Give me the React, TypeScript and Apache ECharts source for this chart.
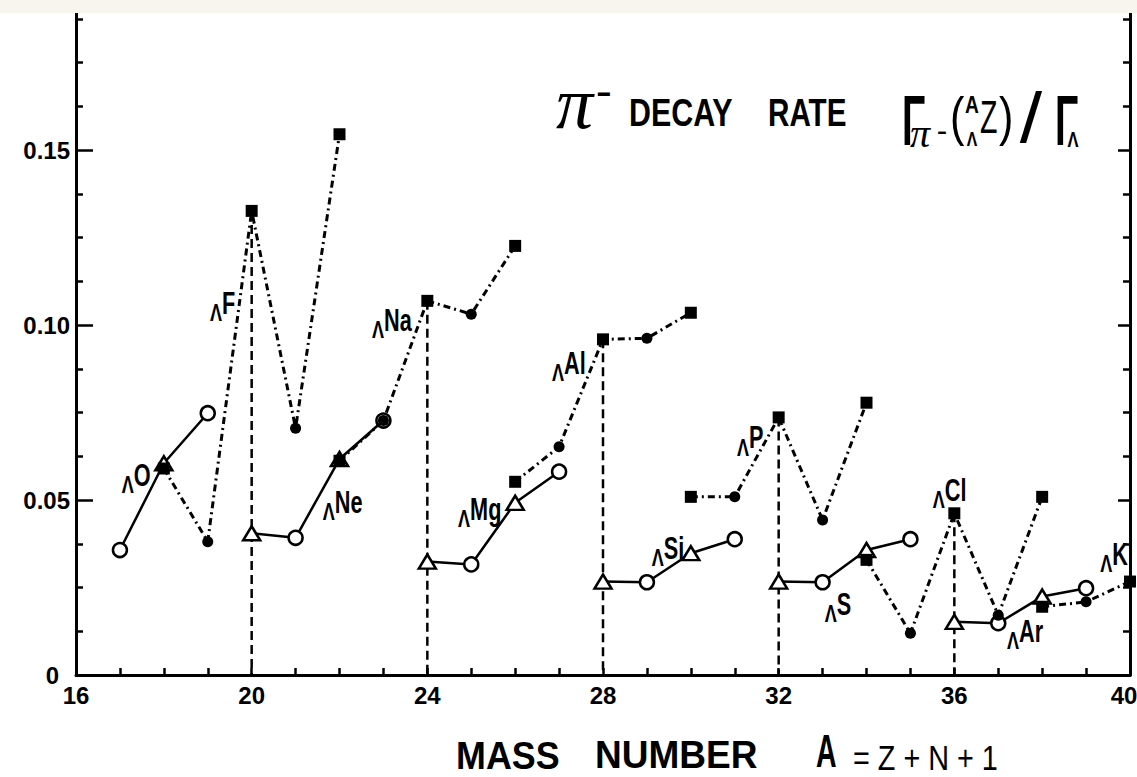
import { useEffect, useRef } from 'react';
import * as echarts from 'echarts';

// π⁻ decay rate Γπ⁻(ΛA Z)/ΓΛ versus mass number A, one chain per hypernucleus.
// Open markers (solid lines): even-Z chains. Filled markers (dash-dot lines): odd-Z chains.
const chainO = [[17, 0.0357], [18, 0.0605], [19, 0.0748]];
const chainNe = [[20, 0.0405], [21, 0.0392], [22, 0.0617], [23, 0.0727]];
const chainMg = [[24, 0.0324], [25, 0.0316], [26, 0.0492], [27, 0.0581]];
const chainSi = [[28, 0.0267], [29, 0.0265], [30, 0.0348], [31, 0.0388]];
const chainS = [[32, 0.0267], [33, 0.0265], [34, 0.0357], [35, 0.0388]];
const chainAr = [[36, 0.0152], [37, 0.0148], [38, 0.0224], [39, 0.0248]];

const chainF = [[18, 0.059], [19, 0.0381], [20, 0.1326], [21, 0.0705], [22, 0.1545]];
const chainNa = [[22, 0.0612], [23, 0.0727], [24, 0.1069], [25, 0.1031], [26, 0.1226]];
const chainAl = [[26, 0.0552], [27, 0.0652], [28, 0.0959], [29, 0.0962], [30, 0.1035]];
const chainP = [[30, 0.0509], [31, 0.0509], [32, 0.0736], [33, 0.0443], [34, 0.0778]];
const chainCl = [[34, 0.0329], [35, 0.0119], [36, 0.0462], [37, 0.0171], [38, 0.0509]];
const chainK = [[38, 0.0195], [39, 0.0209], [40, 0.0267]];

// Chains whose A = 4n member gets a dashed drop line to the axis
const dropChains = [chainF, chainNa, chainAl, chainP, chainCl];
const dropA = [20, 24, 28, 32, 36];

// Element labels (Λ prefix + symbol), anchored in data coordinates
const labelNames = ['O', 'F', 'Ne', 'Na', 'Mg', 'Al', 'Si', 'P', 'S', 'Cl', 'Ar', 'K'];
const labelA = [17.04, 19.05, 21.62, 22.74, 24.7, 26.84, 29.11, 31.05, 33.05, 35.51, 37.2, 39.32];
const labelRate = [0.057, 0.1061, 0.0493, 0.1014, 0.0474, 0.089, 0.036, 0.0677, 0.02, 0.0526, 0.0123, 0.0343];

const FONT = '"Liberation Sans", Arial, Helvetica, sans-serif';
const SERIF = '"Liberation Serif", "DejaVu Serif", serif';

function openSeries(name: string, pts: number[][]) {
  return {
    type: 'line',
    name,
    data: pts.map(([a, r]) => ({
      value: [a, r],
      symbol: a % 2 === 0 ? 'triangle' : 'circle',
      symbolSize: a % 2 === 0 ? [17, 14] : 14,
    })),
    lineStyle: { color: '#000', width: 2.5 },
    itemStyle: { color: '#fff', borderColor: '#000', borderWidth: 2.5 },
    z: 3,
    silent: true,
  };
}

function filledSeries(name: string, pts: number[][]) {
  return {
    type: 'line',
    name,
    data: pts.map(([a, r]) => ({
      value: [a, r],
      symbol: a % 2 === 0 ? 'rect' : 'circle',
      symbolSize: a % 2 === 0 ? 12 : 11,
    })),
    lineStyle: { color: '#000', width: 3, type: [7, 4, 2, 4] },
    itemStyle: { color: '#000' },
    z: 4,
    silent: true,
  };
}

function dropSeries(pts: number[][], a: number) {
  const p = pts.find((q) => q[0] === a) as number[];
  return {
    type: 'line',
    data: [[p[0], p[1]], [p[0], 0]],
    symbol: 'none',
    lineStyle: { color: '#000', width: 2.5, type: [9, 5] },
    z: 2,
    silent: true,
  };
}

function txt(
  text: string,
  x: number,
  y: number,
  size: number,
  opts: { weight?: string; family?: string; style?: string; sx?: number; align?: string } = {}
) {
  const align = opts.align || 'left';
  return {
    type: 'text',
    x,
    y,
    scaleX: opts.sx ?? 1,
    z: 10,
    silent: true,
    style: {
      text,
      fill: '#000',
      fontSize: size,
      fontWeight: opts.weight || 'bold',
      fontStyle: opts.style || 'normal',
      fontFamily: opts.family || FONT,
      align,
      verticalAlign: 'middle',
      textAlign: align,
      textVerticalAlign: 'middle',
    },
  };
}

export default function App() {
  const ref = useRef<HTMLDivElement>(null);

  useEffect(() => {
    if (!ref.current) return;
    const chart = echarts.init(ref.current, undefined, { renderer: 'svg' });

    const axisLine = { show: true, lineStyle: { color: '#000', width: 3 } };
    const labelFont = { fontSize: 24, fontWeight: 'bold', fontFamily: FONT, color: '#000' };

    const option = {
      animation: false,
      backgroundColor: '#fff',
      grid: {
        left: 76,
        right: 7,
        top: -25,
        bottom: 102,
        containLabel: false,
        outerBoundsMode: 'none',
      },
      xAxis: {
        type: 'value',
        min: 16,
        max: 40,
        interval: 4,
        axisLine,
        axisTick: { show: true, inside: true, length: 7, lineStyle: { color: '#000', width: 2.5 } },
        minorTick: { show: true, splitNumber: 4, length: 7, lineStyle: { color: '#000', width: 2.5 } },
        splitLine: { show: false },
        minorSplitLine: { show: false },
        axisLabel: {
          margin: 8,
          ...labelFont,
          // the last label sits on the frame edge; nudge it inward
          formatter: (v: number) => (v === 40 ? '{e|40}' : String(v)),
          rich: { e: { ...labelFont, padding: [0, 12, 0, 0] } },
        },
      },
      yAxis: [
        {
          type: 'value',
          position: 'left',
          min: 0,
          max: 0.2,
          interval: 0.05,
          axisLine,
          axisTick: { show: true, inside: true, length: 17, lineStyle: { color: '#000', width: 2.5 } },
          minorTick: { show: true, splitNumber: 4, length: 7, lineStyle: { color: '#000', width: 2.5 } },
          splitLine: { show: false },
          minorSplitLine: { show: false },
          axisLabel: {
            margin: 6,
            ...labelFont,
            showMaxLabel: false,
            formatter: (v: number) => (v === 0 ? '{z|0}' : v.toFixed(2)),
            rich: { z: { ...labelFont, padding: [0, 11, 0, 0] } },
          },
        },
        {
          type: 'value',
          position: 'right',
          min: 0,
          max: 0.2,
          interval: 0.05,
          axisLine,
          axisTick: { show: true, inside: true, length: 12, lineStyle: { color: '#000', width: 2.5 } },
          minorTick: { show: true, splitNumber: 4, length: 7, lineStyle: { color: '#000', width: 2.5 } },
          splitLine: { show: false },
          minorSplitLine: { show: false },
          axisLabel: { show: false },
        },
      ],
      series: [
        ...dropChains.map((c, i) => dropSeries(c, dropA[i])),
        openSeries('O', chainO),
        openSeries('Ne', chainNe),
        openSeries('Mg', chainMg),
        openSeries('Si', chainSi),
        openSeries('S', chainS),
        openSeries('Ar', chainAr),
        filledSeries('F', chainF),
        filledSeries('Na', chainNa),
        filledSeries('Al', chainAl),
        filledSeries('P', chainP),
        filledSeries('Cl', chainCl),
        filledSeries('K', chainK),
        {
          type: 'custom',
          coordinateSystem: 'cartesian2d',
          clip: false,
          silent: true,
          z: 6,
          data: labelA.map((a, i) => [a, labelRate[i]]),
          renderItem: (params: any, api: any) => {
            const p = api.coord([api.value(0), api.value(1)]);
            const name = labelNames[params.dataIndex];
            return {
              type: 'group',
              x: p[0],
              y: p[1],
              children: [
                {
                  type: 'text',
                  x: 0,
                  y: 9,
                  scaleX: 0.75,
                  style: {
                    text: 'Λ',
                    fill: '#000',
                    fontSize: 24,
                    fontWeight: 'bold',
                    fontFamily: FONT,
                    align: 'left',
                    verticalAlign: 'middle',
                  },
                },
                {
                  type: 'text',
                  x: 12,
                  y: 0,
                  scaleX: 0.7,
                  style: {
                    text: name,
                    fill: '#000',
                    fontSize: 31,
                    fontWeight: 'bold',
                    fontFamily: FONT,
                    align: 'left',
                    verticalAlign: 'middle',
                  },
                },
              ],
            };
          },
        },
      ],
      graphic: [
        // paper edge at the top
        {
          type: 'rect',
          z: 100,
          silent: true,
          shape: { x: 0, y: 0, width: 1137, height: 13 },
          style: { fill: '#f8f5ee' },
        },
        // title: π⁻ DECAY RATE   Γπ⁻(ΛA Z)/ΓΛ
        txt('π', 556, 103, 74, { weight: 'normal', family: SERIF, style: 'italic' }),
        txt('−', 604, 94, 32, { sx: 0.75, align: 'center' }),
        txt('DECAY', 629, 113, 38, { sx: 0.8 }),
        txt('RATE', 768, 113, 38, { sx: 0.78 }),
        txt('Γ', 902, 121, 70, { sx: 0.55 }),
        txt('π', 910, 133, 40, { weight: 'normal', family: SERIF, style: 'italic' }),
        txt('−', 942, 132, 22, { sx: 0.7, align: 'center' }),
        txt('(', 950, 116, 54, { weight: 'normal', sx: 0.8 }),
        txt('A', 972, 104.5, 24, { sx: 0.8, align: 'center' }),
        txt('Λ', 972, 138.5, 21, { sx: 0.75, align: 'center' }),
        txt('Z', 980, 116.5, 46, { weight: 'normal', sx: 0.62 }),
        txt(')', 999, 116, 54, { weight: 'normal', sx: 0.8 }),
        txt('/', 1031, 118, 70, { weight: 'normal', sx: 1.15, align: 'center' }),
        txt('Γ', 1055, 121, 70, { sx: 0.55 }),
        txt('Λ', 1073, 139, 22, { sx: 0.75, align: 'center' }),
        // x-axis name: MASS NUMBER   A = Z + N + 1
        txt('MASS', 456, 755, 39, { sx: 0.92 }),
        txt('NUMBER', 595, 755, 39, { sx: 0.95 }),
        txt('A', 816, 751, 46, { sx: 0.62 }),
        txt('= Z + N + 1', 853, 757, 36, { weight: 'normal', sx: 0.8 }),
      ],
    };

    chart.setOption(option as any);
    return () => {
      chart.dispose();
    };
  }, []);

  return (
    <div
      ref={ref}
      style={{ position: 'fixed', left: 0, top: 0, width: 1137, height: 777, background: '#fff' }}
    />
  );
}
